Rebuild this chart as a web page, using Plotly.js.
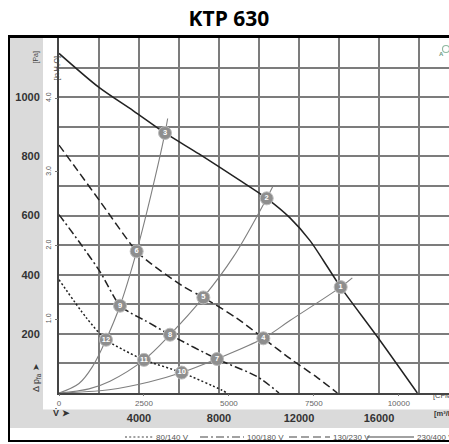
<!DOCTYPE html>
<html><head><meta charset="utf-8">
<script src="https://cdn.plot.ly/plotly-3.0.1.min.js"></script>
<style>html,body{margin:0;padding:0;background:#fff}#chart{width:449px;height:444px}</style>
</head><body><div id="chart"></div>
<script>
// ---- data (flow in m3/h, pressure in Pa) ----
const fan400Flow = [0,2000,3717,5300,7000,8967,10385,11550,12550,13217,14083,15917,17917];
const fan400Pres = [1148,1033,954,879,808,722,658,592,515,448,358,190,0];
const fan230Flow = [0,900,2050,3883,4550,6217,7217,8883,10217,11583,12917,13917];
const fan230Pres = [838,755,648,479,440,360,323,253,185,115,52,0];
const fan180Flow = [0,1050,2050,3050,3600,4300,5550,7900,9917,11000];
const fan180Pres = [603,507,410,295,270,245,197,115,55,0];
const fan140Flow = [0,1383,2350,3217,4250,6133,8133,8400];
const fan140Pres = [383,253,180,146,112,69,10,0];

const sysAFlow = [0,1000,1700,2350,3050,3883,4600,5300,5433];
const sysAPres = [0,32,92,180,295,479,670,879,928];
const sysBFlow = [0,1500,2550,4250,5550,7217,8717,10385,10683];
const sysBPres = [0,14,40,112,197,323,460,658,697];
const sysCFlow = [0,2500,4500,6133,7850,10217,11550,14083,14667];
const sysCPres = [0,11,37,69,114,185,245,358,389];

const opNum  = ['1','2','3','4','5','6','7','8','9','10','11','12'];
const opFlow = [14083,10385,5300,10217,7217,3883,7900,5550,3050,6133,4250,2350];
const opPres = [358,658,879,185,323,479,115,197,295,69,112,180];

const legendNames = ['80/140 V','100/180 V','130/230 V','230/400 V'];

const xGridFlow = [2000,4000,6000,8000,10000,12000,14000,16000,18000];
const xFlowText = ['','4000','','8000','','12000','','16000',''];
const cfmTicks  = [0,2500,5000,7500,10000];
const cfmText   = ['0','2500','5000','7500','10000'];
const yGridPa   = [100,200,300,400,500,600,700,800,900,1000,1100];
const yPaText   = ['','200','','400','','600','','800','','1000',''];
const inH2OTicks = [1,2,3,4];
const inH2OText  = ['1.0','2.0','3.0','4.0'];

// ---- geometry helpers (pixels -> paper) ----
const L = 59, T = 38, W = 390, H = 355;
const px = x => (x - L) / W;
const py = y => (T + H - y) / H;
const xMax = 19500, yMax = 1200;

const dark = '#222';
const sysColor = '#7f7f7f';
const traces = [];
function sys(xs, ys){
  traces.push({x:xs, y:ys, type:'scatter', mode:'lines', hoverinfo:'skip',
    line:{color:sysColor, width:1.1, shape:'spline', smoothing:1}, showlegend:false});
}
sys(sysAFlow, sysAPres); sys(sysBFlow, sysBPres); sys(sysCFlow, sysCPres);

const dashes = ['2px,2.2px','8px,3px,2px,3px','8px,4px','solid'];
const fans = [[fan140Flow,fan140Pres],[fan180Flow,fan180Pres],[fan230Flow,fan230Pres],[fan400Flow,fan400Pres]];
fans.forEach((f,i)=>{
  traces.push({x:f[0], y:f[1], type:'scatter', mode:'lines', name:legendNames[i],
    line:{color:dark, width:1.5, dash:dashes[i], shape:'spline', smoothing:0.8}, showlegend:false});
});

traces.push({x:opFlow, y:opPres, type:'scatter', mode:'markers+text', text:opNum,
  textposition:'middle center', textfont:{family:'Liberation Sans', size:7.5, color:'#fff', weight:'bold'},
  marker:{size:13, color:'#8e8e8e', line:{color:'#bdbdbd', width:1}}, showlegend:false, cliponaxis:false});

// invisible trace to activate secondary axes
traces.push({x:[0], y:[0], xaxis:'x2', yaxis:'y2', type:'scatter', mode:'markers',
  marker:{opacity:0}, showlegend:false, hoverinfo:'skip'});

const shapes = [
  {type:'rect', xref:'paper', yref:'paper', x0:px(10), x1:px(43), y0:py(428), y1:py(T), fillcolor:'#dadada', line:{width:0}, layer:'below'},
  {type:'rect', xref:'paper', yref:'paper', x0:px(10), x1:px(452), y0:py(428), y1:py(409.5), fillcolor:'#dadada', line:{width:0}, layer:'below'},
  {type:'line', xref:'paper', yref:'paper', x0:px(9), x1:px(9), y0:py(36), y1:py(441), line:{color:'#000', width:2}},
  {type:'line', xref:'paper', yref:'paper', x0:px(8), x1:px(452), y0:py(441), y1:py(441), line:{color:'#000', width:2}},
  {type:'line', xref:'paper', yref:'paper', x0:px(8), x1:px(452), y0:py(36.5), y1:py(36.5), line:{color:'#000', width:3}},
  {type:'circle', xref:'paper', yref:'paper', x0:px(442.5), x1:px(449.5), y0:py(45.5), y1:py(52.5), line:{color:'#8fb8a0', width:1.1}, fillcolor:'rgba(0,0,0,0)'}
];
const legX = [[125,153],[200,244],[289,330],[367,414]];
legX.forEach((p,i)=>{
  shapes.push({type:'line', xref:'paper', yref:'paper', x0:px(p[0]), x1:px(p[1]), y0:py(437), y1:py(437),
    line:{color:'#444', width:1.1, dash:dashes[i]}});
});

const ann = [];
legendNames.forEach((n,i)=>{
  ann.push({xref:'paper', yref:'paper', x:px(legX[i][1]+1), y:py(437), xanchor:'left', yanchor:'middle',
    text:n, showarrow:false, font:{family:'Liberation Sans', size:8, color:'#555'}});
});
ann.push({xref:'paper', yref:'paper', x:px(30), y:py(49), text:'[Pa]', textangle:-90, showarrow:false,
  font:{family:'Liberation Sans', size:7, color:'#444'}});
ann.push({xref:'paper', yref:'paper', x:px(50), y:py(54), text:'[in H₂O]', textangle:-90, showarrow:false,
  font:{family:'Liberation Sans', size:7, color:'#444'}});
ann.push({xref:'paper', yref:'paper', x:px(29), y:py(394), text:'Δ p<sub>fa</sub> ➤', textangle:-90, showarrow:false,
  font:{family:'Liberation Sans', size:9, color:'#333'}});
ann.push({xref:'paper', yref:'paper', x:px(51), y:py(420), text:'<b>V̇ ➤</b>', showarrow:false,
  font:{family:'Liberation Sans', size:9, color:'#333'}});
ann.push({xref:'paper', yref:'paper', x:px(431), y:py(402), xanchor:'left', text:'[CFM]', showarrow:false,
  font:{family:'Liberation Sans', size:7.5, color:'#444'}});
ann.push({xref:'paper', yref:'paper', x:px(432), y:py(420), xanchor:'left', text:'<b>[m³/h]</b>', showarrow:false,
  font:{family:'Liberation Sans', size:7.5, color:'#333'}});
ann.push({xref:'paper', yref:'paper', x:px(446), y:py(49), text:'<b>A</b>', showarrow:false,
  font:{family:'Liberation Sans', size:6, color:'#6a9a80'}});

const gridColor = '#7c7c7c';
const layout = {
  width:449, height:444,
  margin:{l:L, r:0, t:T, b:444-T-H, pad:0},
  paper_bgcolor:'#fff', plot_bgcolor:'#fff',
  showlegend:false,
  title:{text:'<b>KTP 630</b>', font:{family:'Open Sans', size:21, color:'#000'},
    xref:'container', x:229/449, xanchor:'center', yref:'container', y:1-19/444, yanchor:'middle'},
  xaxis:{range:[0,xMax], tickmode:'array', tickvals:xGridFlow, ticktext:xFlowText,
    showgrid:true, gridcolor:gridColor, gridwidth:2, zeroline:false,
    showline:true, linecolor:'#444', linewidth:2, ticks:'', ticklabelstandoff:14,
    tickfont:{family:'Liberation Sans', size:11, color:'#333', weight:'bold'}, fixedrange:true},
  xaxis2:{overlaying:'x', side:'bottom', range:[0,xMax/1.699], tickmode:'array', tickvals:cfmTicks, ticktext:cfmText,
    showgrid:false, zeroline:false, showline:false, ticks:'outside', ticklen:2, tickcolor:'#777', tickwidth:1,
    ticklabelstandoff:0, tickfont:{family:'Liberation Sans', size:8, color:'#666'}},
  yaxis:{range:[0,yMax], tickmode:'array', tickvals:yGridPa, ticktext:yPaText,
    showgrid:true, gridcolor:gridColor, gridwidth:2, zeroline:false,
    showline:true, linecolor:'#444', linewidth:2, ticks:'', ticklabelstandoff:15,
    tickfont:{family:'Liberation Sans', size:11, color:'#333', weight:'bold'}},
  yaxis2:{overlaying:'y', side:'left', range:[0,yMax/249.09], tickmode:'array', tickvals:inH2OTicks, ticktext:inH2OText,
    showgrid:false, zeroline:false, showline:false, ticks:'outside', ticklen:3, tickcolor:'#777',
    tickangle:-90, ticklabelstandoff:1, tickfont:{family:'Liberation Sans', size:7, color:'#555'}},
  shapes:shapes,
  annotations:ann
};
Plotly.newPlot('chart', traces, layout, {displayModeBar:false, staticPlot:true});
</script></body></html>
